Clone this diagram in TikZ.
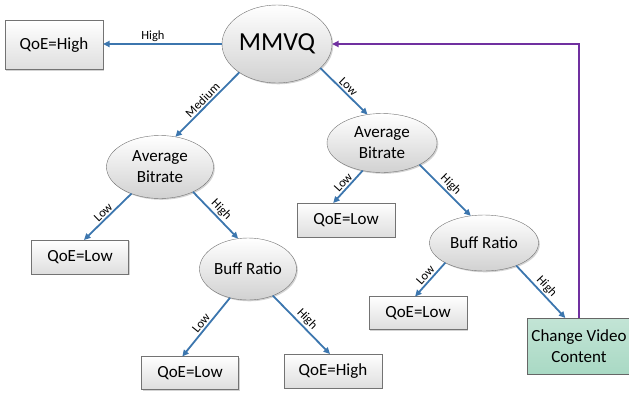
\documentclass[tikz,border=0pt]{standalone}
\usepackage{fontspec}
\setmainfont{Carlito}
\usetikzlibrary{shapes.geometric,shadows,arrows.meta}
\definecolor{edgeblue}{HTML}{3C76AE}
\definecolor{fbpurple}{HTML}{7030A0}
\definecolor{cvcgreen}{HTML}{A9D9C4}
\begin{document}
\begin{tikzpicture}[x=1pt,y=-1pt,
  edge/.style={draw=edgeblue, line width=1.8pt, -{Triangle[length=6.5pt,width=6pt]}},
  fb/.style={draw=fbpurple, line width=1.8pt, -{Triangle[length=6.5pt,width=6pt]}},
  lbl/.style={font=\fontsize{12.5}{14}\selectfont, sloped, above, inner sep=1.5pt, midway},
  shad/.style={drop shadow={shadow xshift=1.3pt,shadow yshift=-1.3pt,opacity=0.35}},
  oval/.style={ellipse, draw=black!55, thin, top color=white, bottom color=black!18,
    inner sep=0pt, outer sep=0pt, align=center, font=\fontsize{17}{21}\selectfont, shad},
  leaf/.style={rectangle, draw=black!55, thin, top color=white, bottom color=black!13,
    inner sep=0pt, outer sep=0pt, align=center, font=\fontsize{17}{21}\selectfont, shad}]
\useasboundingbox (0,0) rectangle (629,397);

\node[oval, minimum width=110pt, minimum height=78pt, font=\fontsize{26}{28}\selectfont] (mmvq) at (277,44) {MMVQ};
\node[leaf, minimum width=98pt, minimum height=49pt] (qh1) at (54,45) {QoE=High};
\node[oval, minimum width=107pt, minimum height=63pt] (ab1) at (160,167) {Average\\Bitrate};
\node[oval, minimum width=110pt, minimum height=59pt] (ab2) at (382,143) {Average\\Bitrate};
\node[leaf, minimum width=97pt, minimum height=34pt] (ql1) at (80,257) {QoE=Low};
\node[oval, minimum width=97pt, minimum height=62pt] (br1) at (248,269) {Buff Ratio};
\node[leaf, minimum width=97pt, minimum height=33pt] (ql2) at (190,373) {QoE=Low};
\node[leaf, minimum width=98pt, minimum height=34pt] (qh2) at (333,371) {QoE=High};
\node[leaf, minimum width=98pt, minimum height=34pt] (ql3) at (346,220) {QoE=Low};
\node[oval, minimum width=109pt, minimum height=56pt] (br2) at (484,243) {Buff Ratio};
\node[leaf, minimum width=98pt, minimum height=33pt] (ql4) at (418,313) {QoE=Low};
\node[leaf, minimum width=104pt, minimum height=56pt, top color=cvcgreen!70, bottom color=cvcgreen, draw=black!60] (cvc) at (579,346) {Change Video\\Content};

\draw[edge] (mmvq.west) -- node[lbl,pos=0.58]{High} (mmvq.west -| qh1.east);
\draw[edge] (mmvq.217) -- node[lbl]{Medium} (ab1.63);
\draw[edge] (mmvq.331) -- node[lbl]{Low} (ab2.117);
\draw[edge] (ab1.223) -- node[lbl]{Low} (ql1.77);
\draw[edge] (ab1.323) -- node[lbl]{High} (br1.108);
\draw[edge] (br1.238) -- node[lbl]{Low} (ql2.115);
\draw[edge] (br1.313) -- node[lbl]{High} (qh2.100);
\draw[edge] (ab2.235) -- node[lbl]{Low} (ql3.127);
\draw[edge] (ab2.330) -- node[lbl]{High} (br2.116);
\draw[edge] (br2.207) -- node[lbl]{Low} (ql4.100);
\draw[edge] (br2.325) -- node[lbl]{High} (cvc.116);
\draw[fb] (cvc.north) |- (mmvq.east);
\end{tikzpicture}
\end{document}
